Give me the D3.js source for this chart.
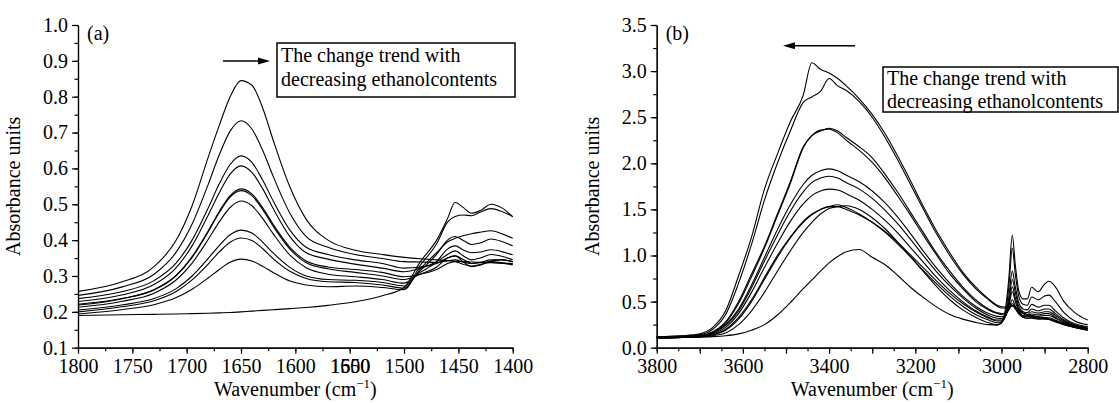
<!DOCTYPE html>
<html>
<head>
<meta charset="utf-8">
<script src="https://cdnjs.cloudflare.com/ajax/libs/d3/7.8.5/d3.min.js"></script>
<style>
svg, svg text, svg tspan { font-family: 'Liberation Serif' !important; }
</style>
</head>
<body style="margin:0">
<svg id="chart" width="1119" height="403" font-family="Liberation Serif"></svg>
<script>

// ---------- panel (a) : 1800-1400 cm-1 ----------
var wnA = [1800,1760,1730,1710,1695,1680,1670,1660,1650,1640,1630,1620,1605,1590,1570,1545,1520,1500,1485,1470,1460,1453,1445,1438,1430,1420,1410,1400];

var a1  = [0.257,0.283,0.326,0.398,0.496,0.633,0.720,0.800,0.845,0.832,0.768,0.675,0.548,0.458,0.400,0.372,0.360,0.352,0.348,0.345,0.343,0.341,0.340,0.339,0.338,0.337,0.336,0.335];
var a2  = [0.246,0.269,0.305,0.365,0.445,0.557,0.638,0.704,0.733,0.710,0.650,0.575,0.475,0.410,0.380,0.360,0.349,0.340,0.339,0.338,0.342,0.345,0.338,0.335,0.337,0.340,0.337,0.333];
var a3  = [0.237,0.256,0.287,0.335,0.400,0.491,0.557,0.611,0.635,0.617,0.567,0.507,0.428,0.380,0.360,0.345,0.335,0.322,0.325,0.335,0.350,0.356,0.345,0.335,0.338,0.345,0.345,0.340];
var a4  = [0.229,0.247,0.276,0.322,0.384,0.471,0.532,0.584,0.607,0.589,0.543,0.486,0.410,0.365,0.347,0.333,0.322,0.312,0.322,0.340,0.360,0.370,0.355,0.345,0.350,0.360,0.355,0.345];
var a5  = [0.219,0.236,0.262,0.301,0.354,0.427,0.480,0.524,0.543,0.529,0.490,0.442,0.380,0.342,0.325,0.318,0.310,0.298,0.305,0.318,0.335,0.340,0.332,0.328,0.332,0.338,0.336,0.331];
var a6  = [0.221,0.237,0.261,0.300,0.352,0.424,0.477,0.520,0.538,0.524,0.485,0.437,0.375,0.337,0.320,0.310,0.300,0.290,0.305,0.325,0.350,0.356,0.338,0.326,0.330,0.342,0.345,0.340];
var a7  = [0.213,0.229,0.252,0.288,0.336,0.403,0.451,0.491,0.509,0.496,0.460,0.416,0.358,0.323,0.305,0.298,0.290,0.280,0.310,0.340,0.375,0.384,0.372,0.365,0.367,0.373,0.368,0.359];
var a8  = [0.205,0.219,0.237,0.264,0.300,0.350,0.385,0.415,0.428,0.420,0.394,0.363,0.324,0.300,0.290,0.288,0.282,0.272,0.315,0.360,0.400,0.410,0.398,0.388,0.392,0.403,0.396,0.384];
var a9  = [0.200,0.214,0.231,0.256,0.289,0.334,0.367,0.394,0.406,0.399,0.376,0.347,0.313,0.293,0.284,0.282,0.275,0.266,0.320,0.365,0.395,0.405,0.413,0.418,0.422,0.426,0.418,0.405];
var a10 = [0.194,0.206,0.220,0.239,0.263,0.295,0.318,0.338,0.347,0.342,0.327,0.309,0.286,0.275,0.270,0.272,0.268,0.262,0.330,0.390,0.450,0.466,0.470,0.468,0.478,0.488,0.480,0.466];
var a11 = [0.190,0.192,0.193,0.194,0.195,0.196,0.197,0.198,0.200,0.202,0.204,0.206,0.209,0.212,0.218,0.228,0.245,0.268,0.340,0.400,0.460,0.505,0.490,0.475,0.482,0.500,0.490,0.465];

var ticksA_x = [1800,1750,1700,1650,1600,1550,1500,1450,1400];
var ticksA_y = [0.1,0.2,0.3,0.4,0.5,0.6,0.7,0.8,0.9,1.0];

// ---------- panel (b) : 3800-2800 cm-1 ----------
var wnB = [3800,3740,3700,3670,3640,3610,3580,3550,3520,3490,3460,3440,3420,3400,3380,3360,3330,3300,3270,3240,3210,3180,3150,3120,3090,3060,3030,3010,3000,2990,2983,2975,2968,2960,2950,2940,2930,2915,2900,2890,2875,2855,2830,2800];

var b1  = [0.12,0.13,0.15,0.22,0.40,0.78,1.20,1.72,2.10,2.45,2.74,3.09,3.02,2.98,2.92,2.84,2.70,2.53,2.32,2.07,1.80,1.52,1.26,1.03,0.82,0.66,0.53,0.46,0.445,0.44,0.445,0.45,0.44,0.41,0.38,0.36,0.35,0.33,0.32,0.31,0.29,0.26,0.23,0.20];
var b2  = [0.12,0.13,0.14,0.20,0.36,0.70,1.12,1.60,2.00,2.35,2.66,2.72,2.78,2.92,2.84,2.79,2.67,2.50,2.28,2.03,1.76,1.49,1.23,1.00,0.80,0.64,0.52,0.45,0.43,0.43,0.44,0.46,0.44,0.40,0.37,0.35,0.34,0.32,0.31,0.305,0.28,0.25,0.22,0.19];
var b3  = [0.11,0.12,0.13,0.17,0.28,0.50,0.80,1.10,1.45,1.80,2.18,2.30,2.35,2.38,2.35,2.28,2.18,2.06,1.88,1.68,1.46,1.24,1.02,0.83,0.66,0.52,0.42,0.38,0.37,0.38,0.41,0.46,0.42,0.37,0.33,0.32,0.32,0.31,0.315,0.31,0.29,0.25,0.22,0.19];
var b4  = [0.11,0.12,0.13,0.17,0.27,0.48,0.77,1.08,1.43,1.78,2.17,2.30,2.36,2.37,2.33,2.25,2.14,2.01,1.84,1.64,1.43,1.21,1.00,0.80,0.64,0.50,0.41,0.37,0.36,0.38,0.42,0.48,0.43,0.37,0.33,0.32,0.33,0.32,0.33,0.325,0.30,0.26,0.22,0.20];
var b5  = [0.11,0.12,0.13,0.16,0.25,0.42,0.68,0.98,1.28,1.55,1.77,1.87,1.92,1.94,1.92,1.87,1.80,1.70,1.57,1.41,1.23,1.04,0.86,0.70,0.56,0.45,0.37,0.34,0.335,0.36,0.42,0.52,0.45,0.38,0.34,0.335,0.345,0.34,0.35,0.35,0.32,0.27,0.23,0.20];
var b6  = [0.11,0.12,0.13,0.16,0.24,0.40,0.65,0.94,1.22,1.48,1.69,1.79,1.84,1.86,1.84,1.79,1.72,1.62,1.49,1.34,1.17,0.99,0.82,0.67,0.54,0.43,0.35,0.32,0.315,0.35,0.44,0.61,0.50,0.40,0.35,0.345,0.365,0.355,0.37,0.37,0.33,0.28,0.24,0.21];
var b7  = [0.11,0.12,0.13,0.15,0.22,0.37,0.60,0.87,1.13,1.37,1.56,1.65,1.70,1.72,1.71,1.67,1.60,1.50,1.38,1.24,1.08,0.92,0.76,0.62,0.50,0.40,0.33,0.30,0.30,0.35,0.47,0.66,0.54,0.42,0.37,0.36,0.39,0.375,0.39,0.39,0.35,0.29,0.24,0.21];
var b8  = [0.10,0.11,0.12,0.14,0.20,0.33,0.52,0.76,1.00,1.20,1.37,1.45,1.50,1.53,1.53,1.50,1.44,1.36,1.26,1.14,1.00,0.86,0.72,0.59,0.48,0.39,0.32,0.29,0.29,0.35,0.50,0.74,0.60,0.45,0.39,0.38,0.42,0.40,0.42,0.42,0.37,0.30,0.25,0.22];
var b9  = [0.10,0.11,0.12,0.14,0.19,0.31,0.50,0.74,0.98,1.19,1.36,1.44,1.50,1.53,1.55,1.52,1.45,1.36,1.25,1.12,0.98,0.83,0.69,0.56,0.45,0.36,0.30,0.27,0.28,0.36,0.55,0.83,0.66,0.49,0.42,0.41,0.47,0.44,0.46,0.46,0.40,0.32,0.26,0.23];
var b10 = [0.10,0.11,0.115,0.13,0.16,0.25,0.40,0.60,0.83,1.05,1.25,1.36,1.45,1.51,1.53,1.54,1.50,1.41,1.29,1.14,0.98,0.82,0.66,0.52,0.41,0.33,0.27,0.25,0.27,0.40,0.66,1.08,0.80,0.56,0.47,0.46,0.55,0.52,0.56,0.57,0.50,0.38,0.29,0.25];
var b11 = [0.11,0.11,0.115,0.12,0.13,0.15,0.19,0.25,0.355,0.49,0.64,0.735,0.83,0.92,0.99,1.04,1.065,0.98,0.90,0.78,0.65,0.54,0.44,0.36,0.31,0.275,0.25,0.245,0.27,0.45,0.75,1.22,0.90,0.62,0.53,0.53,0.655,0.607,0.69,0.72,0.66,0.50,0.38,0.30];

var ticksB_x = [3800,3600,3400,3200,3000,2800];
var ticksB_y = [0.0,0.5,1.0,1.5,2.0,2.5,3.0,3.5];

var svg = d3.select("#chart");

function txt(sel, size) {
	return sel.attr("font-family", "Liberation Serif")
		.style("font-family", "'Liberation Serif'")
		.style("font-size", size + "px")
		.attr("fill", "#000");
}

function styleAxis(ax) {
	ax.attr("font-family", "Liberation Serif").attr("font-size", null);
	ax.select(".domain").attr("stroke", "#000").attr("stroke-width", 1.2);
	ax.selectAll(".tick line").attr("stroke", "#000").attr("stroke-width", 1.2);
	return ax;
}

function drawPanel(p) {
	var g = svg.append("g").attr("transform", "translate(" + p.left + "," + p.top + ")");

	var x = d3.scaleLinear().domain(p.xDom).range([0, p.width]);
	var y = d3.scaleLinear().domain(p.yDom).range([p.height, 0]);

	// minor ticks first, then labelled ones
	styleAxis(g.append("g")
		.attr("transform", "translate(0," + p.height + ")")
		.call(d3.axisBottom(x).tickValues(p.xMinor).tickSize(3.5).tickSizeOuter(0).tickFormat("")));
	var xa = styleAxis(g.append("g")
		.attr("transform", "translate(0," + p.height + ")")
		.call(d3.axisBottom(x).tickValues(p.xMajor).tickSize(6).tickPadding(5).tickSizeOuter(0)
			.tickFormat(function(d) { return p.xTicks.indexOf(d) >= 0 ? d : ""; })));
	txt(xa.selectAll("text"), 20);

	styleAxis(g.append("g")
		.call(d3.axisLeft(y).tickValues(p.yMinor).tickSize(3.5).tickSizeOuter(0).tickFormat("")));
	var ya = styleAxis(g.append("g")
		.call(d3.axisLeft(y).tickValues(p.yTicks).tickSize(6).tickPadding(4).tickSizeOuter(0).tickFormat(d3.format(".1f"))));
	txt(ya.selectAll("text"), 20);

	var line = d3.line()
		.x(function(d) { return x(d[0]); })
		.y(function(d) { return y(d[1]); })
		.curve(d3.curveMonotoneX);

	p.series.forEach(function(s) {
		g.append("path")
			.attr("fill", "none")
			.attr("stroke", "#000")
			.attr("stroke-width", 1.1)
			.attr("stroke-linejoin", "round")
			.attr("d", line(p.wn.map(function(w, i) { return [w, s[i]]; })));
	});

	// panel letter
	txt(svg.append("text"), 20)
		.attr("x", p.left + 9)
		.attr("y", p.top + 15)
		.text(p.letter);

	// y axis title
	txt(svg.append("text"), 20)
		.attr("transform", "translate(" + (p.left + p.yTitleX) + "," + (p.top + p.height / 2) + ") rotate(-90)")
		.attr("text-anchor", "middle")
		.text("Absorbance units");

	// x axis title with superscript
	var xt = txt(svg.append("text"), 20)
		.attr("x", p.left + p.width / 2)
		.attr("y", p.top + p.height + 48)
		.attr("text-anchor", "middle");
	xt.append("tspan").text("Wavenumber (cm");
	xt.append("tspan").attr("dy", -8).style("font-size", "13px").text("\u22121");
	xt.append("tspan").attr("dy", 8).text(")");

	// trend box
	var bx0 = p.left + p.box[0], by0 = p.top + p.box[1];
	svg.append("rect")
		.attr("x", bx0)
		.attr("y", by0)
		.attr("width", p.box[2])
		.attr("height", p.box[3])
		.attr("fill", "#fff")
		.attr("stroke", "#000")
		.attr("stroke-width", 1.5);
	txt(svg.append("text"), 20).attr("x", bx0 + 4).attr("y", by0 + p.box[4]).text("The change trend with");
	txt(svg.append("text"), 20).attr("x", bx0 + 4).attr("y", by0 + p.box[5]).text("decreasing ethanolcontents");

	// arrow
	var a = p.arrow;
	var dir = a[1] > a[0] ? 1 : -1;
	g.append("line")
		.attr("x1", a[0]).attr("x2", a[1] - dir * 8)
		.attr("y1", a[2]).attr("y2", a[2])
		.attr("stroke", "#000").attr("stroke-width", 1.4);
	g.append("path")
		.attr("d", "M" + a[1] + "," + a[2] + "L" + (a[1] - dir * 12) + "," + (a[2] - 3.5) + "L" + (a[1] - dir * 12) + "," + (a[2] + 3.5) + "Z")
		.attr("fill", "#000");

	return { g: g, x: x, y: y, xa: xa };
}

var pa = drawPanel({
	left: 78, top: 25, width: 434.7, height: 322.7,
	xDom: [1800, 1400], yDom: [0.1, 1.0],
	xTicks: ticksA_x, xMajor: ticksA_x, xMinor: d3.range(1400, 1801, 25),
	yTicks: ticksA_y, yMinor: d3.range(0.1, 1.001, 0.05),
	wn: wnA, series: [a1, a2, a3, a4, a5, a6, a7, a8, a9, a10, a11],
	letter: "(a)", yTitleX: -58,
	box: [199, 18, 238, 54, 19, 43],
	arrow: [145, 192, 36]
});

// the 1550 label in the source is overprinted with a stray "1600"
txt(pa.xa.selectAll(".tick").filter(function(d) { return d === 1550; }).append("text"), 20)
	.attr("y", 11)
	.attr("dy", "0.71em")
	.attr("text-anchor", "middle")
	.text("1600");

drawPanel({
	left: 656.7, top: 25, width: 431, height: 322.7,
	xDom: [3800, 2800], yDom: [0, 3.5],
	xTicks: ticksB_x, xMajor: d3.range(2800, 3801, 100), xMinor: d3.range(2800, 3801, 50),
	yTicks: ticksB_y, yMinor: d3.range(0, 3.501, 0.25),
	wn: wnB, series: [b1, b2, b3, b4, b5, b6, b7, b8, b9, b10, b11],
	letter: "(b)", yTitleX: -58,
	box: [226.3, 42, 235, 45, 18, 41],
	arrow: [198.3, 126.3, 20.7]
});

</script>
</body>
</html>
